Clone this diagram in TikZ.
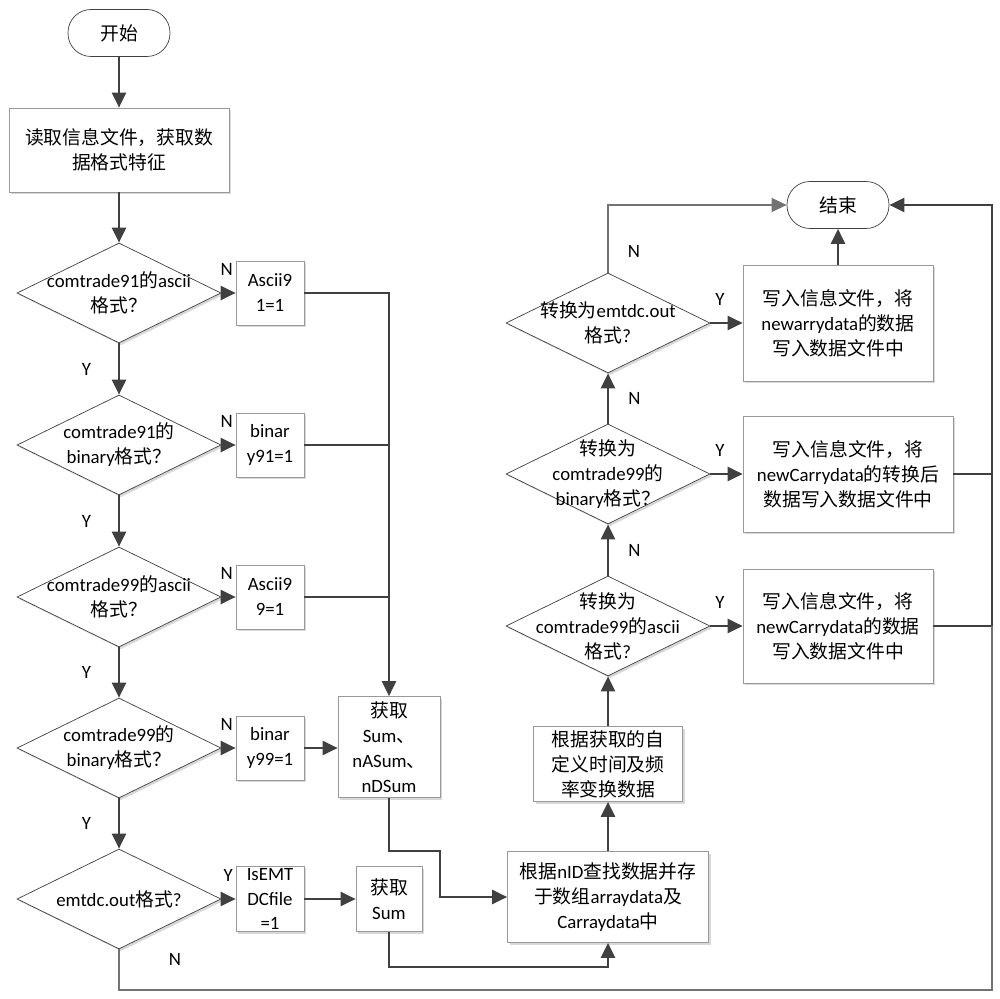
\documentclass[tikz,border=0pt]{standalone}
\usepackage{fontspec}
\setmainfont{Carlito}
\newfontfamily\zhfont{Noto Sans CJK SC}
\newcommand{\zh}[1]{{\zhfont #1}}
\newcommand{\fs}{\fontsize{10.7pt}{14.2pt}\selectfont}
\usetikzlibrary{arrows.meta,shapes.geometric,shadows}

\begin{document}
\begin{tikzpicture}[x=0.02cm, y=-0.02cm, >={Triangle[length=0.3cm,width=0.28cm]}, font=\fs]

\tikzset{
  term/.style={draw=black!75, fill=white, rounded corners=0.46cm, minimum width=2.04cm, minimum height=0.94cm},
  box/.style={draw=black!40, fill=white, align=center, inner sep=1pt,
    drop shadow={shadow xshift=1.2pt, shadow yshift=-1.2pt, fill=black!30, opacity=0.5}},
  dec/.style={diamond, draw=black!75, fill=white, minimum width=4.08cm, minimum height=2cm, inner sep=0pt,
    drop shadow={shadow xshift=1.2pt, shadow yshift=-1.2pt, fill=black!30, opacity=0.5}},
  arr/.style={->, line width=1.4pt, draw=black!75},
  link/.style={line width=1.4pt, draw=black!75},
  fineline/.style={line width=0.6pt, draw=black!55},
  finearr/.style={->, line width=0.6pt, draw=black!55},
  ylab/.style={left=0.5cm, inner sep=1pt},
  nlab/.style={pos=1, anchor=south east, yshift=0.3cm, inner sep=1pt},
  yrlab/.style={pos=0, anchor=south west, yshift=0.3cm, xshift=0.04cm, inner sep=1pt},
  nrlab/.style={right=0.35cm, inner sep=1pt}
}

\useasboundingbox (0,0) rectangle (1000,999);

% --- left column ---
\node[term] (start) at (119,33) {\zh{开始}};
\node[box, minimum width=4.4cm, minimum height=1.68cm] (read) at (119,150) {\zh{读取信息文件，获取数}\\\zh{据格式特征}};

\node[dec, label={[align=center]center:{comtrade91\zh{的}ascii\\\zh{格式？}}}] (d1) at (119,293) {};
\node[dec, label={[align=center]center:{comtrade91\zh{的}\\binary\zh{格式？}}}] (d2) at (119,445) {};
\node[dec, label={[align=center]center:{comtrade99\zh{的}ascii\\\zh{格式？}}}] (d3) at (119,597) {};
\node[dec, label={[align=center]center:{comtrade99\zh{的}\\binary\zh{格式？}}}] (d4) at (119,748) {};
\node[dec, label={[align=center]center:{emtdc.out\zh{格式}?}}] (d5) at (119,899) {};

% flags
\node[box, minimum width=1.36cm, minimum height=1.28cm] (b1) at (270,293) {Ascii9\\1=1};
\node[box, minimum width=1.36cm, minimum height=1.28cm] (b2) at (270,445) {binar\\y91=1};
\node[box, minimum width=1.36cm, minimum height=1.28cm] (b3) at (270,597) {Ascii9\\9=1};
\node[box, minimum width=1.36cm, minimum height=1.28cm] (b4) at (270,748) {binar\\y99=1};
\node[box, minimum width=1.36cm, minimum height=1.28cm] (b5) at (270,899) {IsEMT\\DCfile\\=1};

\node[box, minimum width=2.04cm, minimum height=2.02cm] (sumbox) at (389,747) {\zh{获取}\\Sum\zh{、}\\nASum\zh{、}\\nDSum};
\node[box, minimum width=1.32cm, minimum height=1.3cm] (sum2) at (389,899) {\zh{获取}\\Sum};

% --- right column ---
\node[box, minimum width=4.02cm, minimum height=1.82cm] (nid) at (608,897) {\zh{根据}nID\zh{查找数据并存}\\\zh{于数组}arraydata\zh{及}\\Carraydata\zh{中}};
\node[box, minimum width=2.98cm, minimum height=1.5cm] (freq) at (608,764) {\zh{根据获取的自}\\\zh{定义时间及频}\\\zh{率变换数据}};

\node[dec, label={[align=center]center:{\zh{转换为}\\comtrade99\zh{的}ascii\\\zh{格式}?}}] (r1) at (608,626) {};
\node[dec, label={[align=center]center:{\zh{转换为}\\comtrade99\zh{的}\\binary\zh{格式？}}}] (r2) at (608,474) {};
\node[dec, label={[align=center]center:{\zh{转换为}emtdc.out\\\zh{格式}?}}] (r3) at (608,323) {};

\node[box, minimum width=3.8cm, minimum height=2.28cm] (r1box) at (838,626) {\zh{写入信息文件，将}\\newCarrydata\zh{的数据}\\\zh{写入数据文件中}};
\node[box, minimum width=4.2cm, minimum height=2.32cm] (r2box) at (848,474) {\zh{写入信息文件，将}\\newCarrydata\zh{的转换后}\\\zh{数据写入数据文件中}};
\node[box, minimum width=3.8cm, minimum height=2.32cm] (r3box) at (838,323) {\zh{写入信息文件，将}\\newarrydata\zh{的数据}\\\zh{写入数据文件中}};

\node[term] (endt) at (838,205) {\zh{结束}};
\coordinate (bus) at (992,990);

% --- arrows ---
\draw[arr] (start) -- (read);
\draw[arr] (read) -- (d1);
\draw[arr] (d1) -- node[ylab] {Y} (d2);
\draw[arr] (d2) -- node[ylab] {Y} (d3);
\draw[arr] (d3) -- node[ylab] {Y} (d4);
\draw[arr] (d4) -- node[ylab] {Y} (d5);

\draw[arr] (d1) -- node[nlab] {N} (b1);
\draw[arr] (d2) -- node[nlab] {N} (b2);
\draw[arr] (d3) -- node[nlab] {N} (b3);
\draw[arr] (d4) -- node[nlab] {N} (b4);
\draw[arr] (d5) -- node[nlab] {Y} (b5);

\draw[arr] (b1.east) -| (sumbox.north);
\draw[link] (b2.east) -- (b2.east -| sumbox.north);
\draw[link] (b3.east) -- (b3.east -| sumbox.north);
\draw[arr] (b4.east) -- (b4.east -| sumbox.west);
\draw[arr] (b5) -- (sum2);

\draw[arr] (sumbox.south) -- ++(0,53) -| ([xshift=-1.34cm]nid.west) -- (nid.west);
\draw[arr] (sum2.south) -- ++(0,35) -| (nid.south);

\draw[arr] (nid) -- (freq);
\draw[arr] (freq) -- (r1);
\draw[arr] (r1) -- node[nrlab] {N} (r2);
\draw[arr] (r2) -- node[nrlab] {N} (r3);
\draw[finearr] (r3.north) |- node[nrlab, pos=0.16] {N} (endt.west);

\draw[arr] (r1) -- node[yrlab] {Y} (r1box);
\draw[arr] (r2) -- node[yrlab] {Y} (r2box);
\draw[arr] (r3) -- node[yrlab] {Y} (r3box);
\draw[arr] (r3box) -- (endt);

\draw[arr] (r1box.east) -| (bus |- endt.east) -- (endt.east);
\draw[link] (r2box.east) -- (r2box.east -| bus);
\draw[fineline] (d5.south) |- node[pos=0.12, right=0.95cm, inner sep=1pt] {N} (bus) -- (bus |- r1box.east);

\end{tikzpicture}
\end{document}
